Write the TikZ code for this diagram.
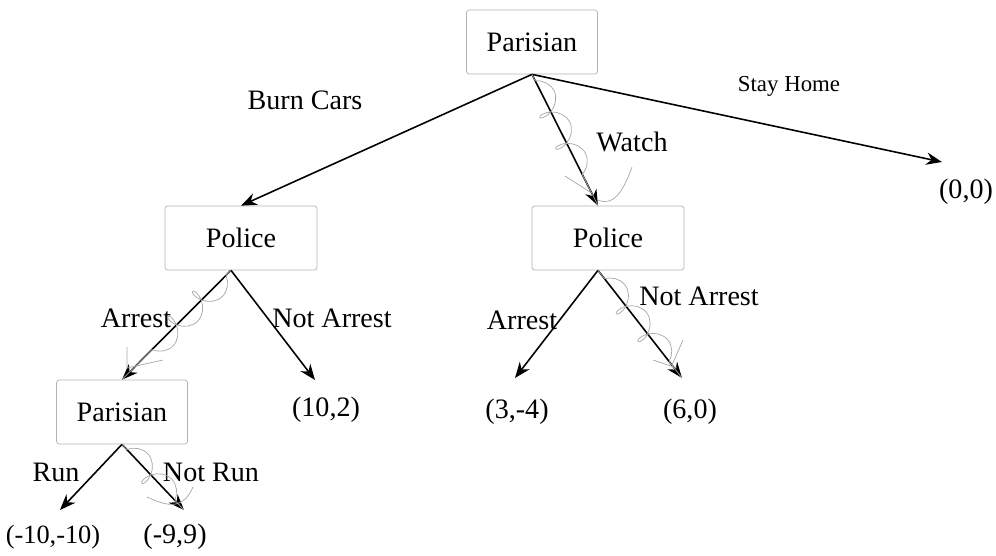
\documentclass[tikz,border=0pt]{standalone}
\usepackage{fontspec}
\setmainfont{Liberation Serif}
\usetikzlibrary{positioning,arrows.meta,decorations.pathmorphing}

\begin{document}
\begin{tikzpicture}[x=0.02cm, y=-0.02cm, thick,
    main/.style = {draw=gray!60, thin, rounded corners=1.5pt, minimum width=2.62cm, minimum height=1.28cm, font=\fontsize{16}{19}\selectfont},
    leaf/.style = {font=\fontsize{16}{19}\selectfont},
    lab/.style = {font=\fontsize{16}{19}\selectfont},
    move/.style = {-{Stealth[length=9pt,width=7pt]}, line width=0.9pt},
    loop/.style = {draw=gray!70, thin, decorate, decoration={coil, aspect=0.7, segment length=20pt, amplitude=7pt}},
    tick/.style = {draw=gray!70, thin}]
    \useasboundingbox (0,0) rectangle (996,555);
    % Nodes
    \node[main] (p1) at (532,42) {Parisian};
    \node[main, minimum width=3.04cm] (c1) at (241,238) {Police};
    \node[main, minimum width=3.04cm] (c2) at (608,238) {Police};
    \node[main] (p2) at (122,412) {Parisian};
    % Payoffs
    \coordinate (t1) at (60,510);
    \coordinate (t2) at (184,510);
    \coordinate (t3) at (315,380);
    \coordinate (t4) at (515,378);
    \coordinate (t5) at (682,378);
    \coordinate (t6) at (942,162);
    \node[leaf, font=\fontsize{15}{18}\selectfont] (l1) at (53,537) {(-10,-10)};
    \node[leaf] (l2) at (175,537) {(-9,9)};
    \node[leaf] (l3) at (326,410) {(10,2)};
    \node[leaf] (l4) at (517,412) {(3,-4)};
    \node[leaf] (l5) at (690,412) {(6,0)};
    \node[leaf] (l6) at (966,192) {(0,0)};
    % Edges
    \draw[move] (p1.south) -- (c1.north);
    \draw[move] (p1.south) -- ([xshift=-0.2cm]c2.north);
    \draw[move] (p1.south) -- (t6);
    \draw[move] ([xshift=-0.2cm]c1.south) -- (p2.north);
    \draw[move] ([xshift=-0.2cm]c1.south) -- (t3);
    \draw[move] ([xshift=-0.2cm]c2.south) -- (t4);
    \draw[move] ([xshift=-0.2cm]c2.south) -- (t5);
    \draw[move] (p2.south) -- (t1);
    \draw[move] (p2.south) -- (t2);
    % Labels
    \node[lab] (bc) at (305,100) {Burn Cars};
    \node[font=\fontsize{13}{16}\selectfont] (sh) at (789,86) {Stay Home};
    \node[lab] (wa) at (632,142) {Watch};
    \node[lab] (a1) at (136,318) {Arrest};
    \node[lab] (n1) at (332,318) {Not Arrest};
    \node[lab] (a2) at (522,320) {Arrest};
    \node[lab] (n2) at (699,296) {Not Arrest};
    \node[lab] (ru) at (56,472) {Run};
    \node[lab] (nr) at (211,472) {Not Run};
    % Squiggles
    \draw[loop, decoration={pre length=4pt, post length=10pt}] (p1.south) -- ([xshift=-0.2cm]c2.north);
    \draw[loop, decoration={pre length=4pt, post length=8pt}] ([xshift=-0.2cm]c1.south) -- (p2.north);
    \draw[loop, decoration={pre length=6pt, post length=6pt}] ([xshift=-0.2cm]c2.south) -- (t5);
    \draw[loop, decoration={pre length=4pt, post length=4pt}] (p2.south) -- (t2);
    % Ticks
    \draw[tick] (598,200) .. controls (612,206) and (622,195) .. (632,167);
    \draw[tick] (565,176) -- (590,192);
    \draw[tick] (127,347) -- (127,368) -- (163,360);
    \draw[tick] (683,340) -- (672,365);
    \draw[tick] (653,360) -- (677,368);
    \draw[tick] (147,497) .. controls (165,505) and (182,512) .. (193,487);
\end{tikzpicture}
\end{document}
